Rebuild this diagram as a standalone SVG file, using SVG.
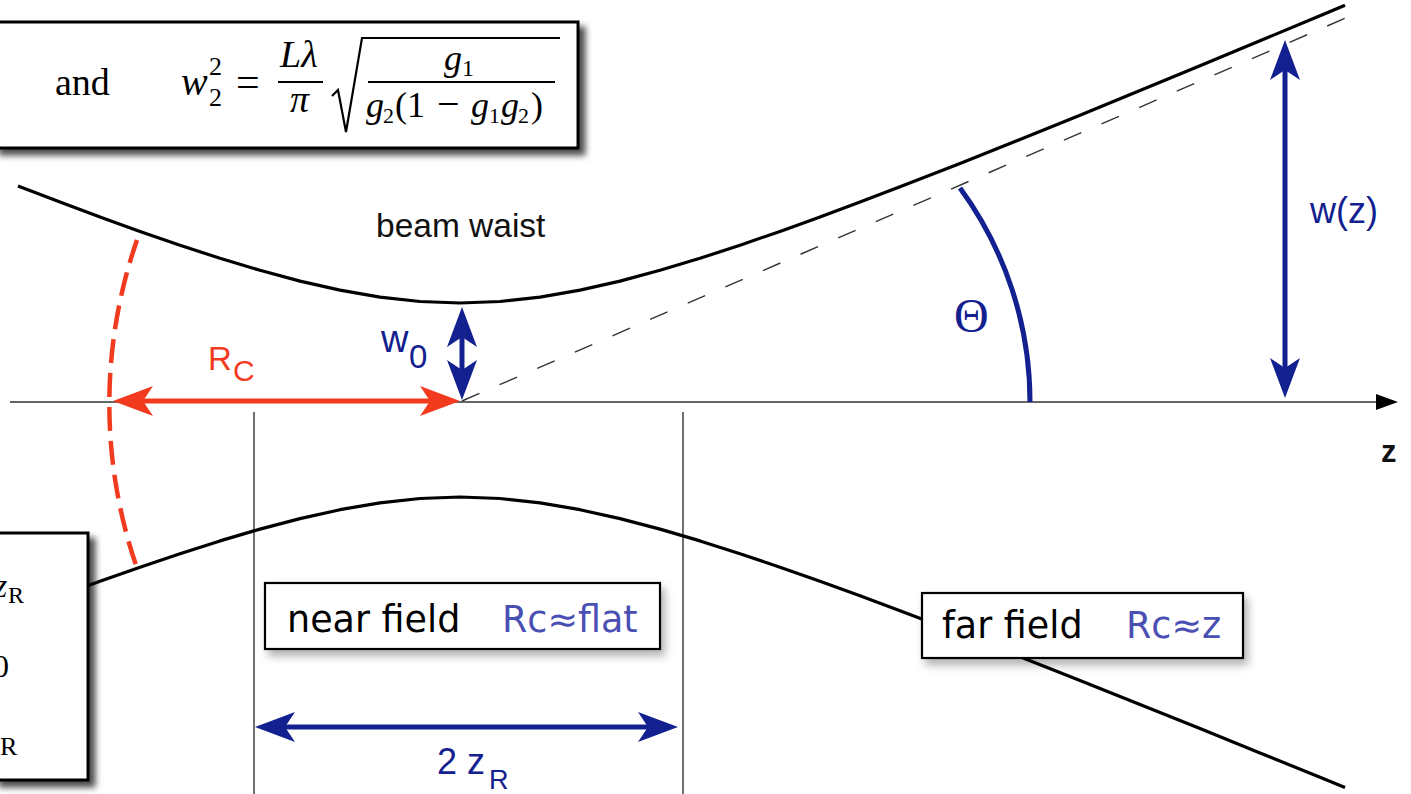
<svg xmlns="http://www.w3.org/2000/svg" width="1411" height="794" viewBox="0 0 1411 794">
<defs>
<style>
.sans{font-family:"Liberation Sans",Arial,sans-serif}
.serif{font-family:"Liberation Serif","Times New Roman",serif}
.verd{font-family:"DejaVu Sans",Verdana,sans-serif}
.it{font-style:italic}
.blue{fill:#13208f}
.red{fill:#f23a1e}
.lblue{fill:#4a50b3}
.box{fill:#fff;stroke:#000;stroke-width:3}
.fbox{fill:#fff;stroke:#000;stroke-width:2.2}
.beam{fill:none;stroke:#000;stroke-width:3.2;stroke-linejoin:round}
</style>
<filter id="shDark" x="-10%" y="-10%" width="130%" height="140%">
<feDropShadow dx="6" dy="6" stdDeviation="3" flood-color="#000" flood-opacity="0.7"/>
</filter>
<filter id="shLight" x="-10%" y="-20%" width="130%" height="160%">
<feDropShadow dx="4" dy="6" stdDeviation="4" flood-color="#000" flood-opacity="0.3"/>
</filter>
<marker id="ahBlue" viewBox="-12 -16 44 32" refX="0" refY="0" markerWidth="44" markerHeight="32" markerUnits="userSpaceOnUse" orient="auto-start-reverse">
<path d="M30,0 L-10,-15 L0,0 L-10,15 Z" fill="#13208f"/>
</marker>
<marker id="ahRed" viewBox="-12 -16 44 32" refX="0" refY="0" markerWidth="44" markerHeight="32" markerUnits="userSpaceOnUse" orient="auto-start-reverse">
<path d="M30,0 L-10,-15 L0,0 L-10,15 Z" fill="#f23a1e"/>
</marker>
</defs>
<rect width="1411" height="794" fill="#fff"/>

<g id="connectors">
<line x1="10" y1="402" x2="1380" y2="402" stroke="#333" stroke-width="1.6"/>
<polygon points="1398,402 1376,394 1376,410" fill="#000"/>
<line x1="254" y1="412" x2="254" y2="794" stroke="#333" stroke-width="1.4"/>
<line x1="683" y1="412" x2="683" y2="794" stroke="#333" stroke-width="1.4"/>
<line x1="462" y1="401" x2="1348" y2="17" stroke="#333" stroke-width="1.4" stroke-dasharray="19 22"/>
<path class="beam" d="M18,186.1 L60,202.1 L100,217 L140,231.4 L180,245.2 L220,258.3 L260,270.3 L300,281.1 L340,290.1 L380,297.1 L420,301.5 L460,303 L500,301.5 L540,297.1 L580,290.1 L620,281.1 L660,270.3 L700,258.3 L740,245.2 L780,231.4 L820,217 L860,202.1 L900,186.8 L960,163.4 L1020,139.5 L1080,115.2 L1140,90.6 L1200,65.8 L1260,40.8 L1320,15.7 L1345,5.2"/>
<path class="beam" d="M60,595.8 L100,581.2 L140,567.2 L180,553.7 L220,540.9 L260,529.1 L300,518.6 L340,509.7 L380,502.8 L420,498.5 L460,497 L500,498.5 L540,502.8 L580,509.7 L620,518.6 L660,529.1 L700,540.9 L740,553.7 L780,567.2 L820,581.2 L860,595.8 L900,610.7 L960,633.5 L1020,656.8 L1080,680.5 L1140,704.4 L1200,728.6 L1260,752.9 L1320,777.3 L1345,787.5"/>
<path d="M137,240 A500,500 0 0 0 137,568" fill="none" stroke="#f23a1e" stroke-width="4.5" stroke-dasharray="24 10"/>
<path d="M960,188 A362,362 0 0 1 1030,402" fill="none" stroke="#13208f" stroke-width="5"/>
<line x1="143" y1="401" x2="430" y2="401" stroke="#f23a1e" stroke-width="5" marker-start="url(#ahRed)" marker-end="url(#ahRed)"/>
<line x1="462" y1="337" x2="462" y2="370" stroke="#13208f" stroke-width="5" marker-start="url(#ahBlue)" marker-end="url(#ahBlue)"/>
<line x1="1285" y1="70" x2="1285" y2="368" stroke="#13208f" stroke-width="5" marker-start="url(#ahBlue)" marker-end="url(#ahBlue)"/>
<line x1="285" y1="727" x2="648" y2="727" stroke="#13208f" stroke-width="5" marker-start="url(#ahBlue)" marker-end="url(#ahBlue)"/>
</g>

<g id="formula-box">
<rect class="box" x="-6" y="22" width="584" height="126" filter="url(#shDark)"/>
<text class="serif" x="55" y="95" font-size="38">and</text>
<text class="serif it" x="181" y="95" font-size="40">w</text>
<text class="serif" x="209" y="75" font-size="26">2</text>
<text class="serif" x="209" y="106" font-size="26">2</text>
<text class="serif" x="236" y="96" font-size="42">=</text>
<text class="serif it" x="280" y="67" font-size="38">Lλ</text>
<line x1="278" y1="82" x2="323" y2="82" stroke="#000" stroke-width="2"/>
<text class="serif it" x="290" y="112" font-size="38">π</text>
<path d="M332,96 L338,90 L346,132 L362,38 H560" fill="none" stroke="#000" stroke-width="2.2" stroke-linejoin="miter"/>
<text class="serif it" x="444" y="70" font-size="36">g</text>
<text class="serif" x="462" y="76" font-size="24">1</text>
<line x1="368" y1="82" x2="555" y2="82" stroke="#000" stroke-width="2"/>
<text class="serif" y="117" font-size="36"><tspan class="it" x="366">g</tspan><tspan x="383" y="123" font-size="22">2</tspan><tspan x="395" y="117">(1</tspan><tspan x="437" font-size="40">−</tspan><tspan class="it" x="471">g</tspan><tspan x="489" y="123" font-size="22">1</tspan><tspan class="it" x="501" y="117">g</tspan><tspan x="518" y="123" font-size="22">2</tspan><tspan x="531" y="117">)</tspan></text>
</g>

<g id="condition-box">
<rect class="box" x="-6" y="533" width="94" height="247" filter="url(#shDark)"/>
<text class="serif" font-size="34"><tspan class="it" x="-6" y="597">z</tspan><tspan x="8" y="603" font-size="24">R</tspan></text>
<text class="serif" x="-7" y="677" font-size="32">0</text>
<text class="serif" font-size="34"><tspan class="it" x="-16" y="755">z</tspan><tspan x="0" y="755" font-size="26">R</tspan></text>
</g>

<g id="near-field">
<rect class="fbox" x="265" y="583" width="395" height="66" filter="url(#shLight)"/>
<text class="verd" x="287" y="632" font-size="36.5" fill="#000">near field</text>
<text class="verd lblue" x="502" y="632" font-size="36.5">Rc≈flat</text>
</g>

<g id="far-field">
<rect class="fbox" x="922" y="593" width="321" height="65" filter="url(#shLight)"/>
<text class="verd" x="942" y="638" font-size="36.5" fill="#000">far field</text>
<text class="verd lblue" x="1126" y="638" font-size="36.5">Rc≈z</text>
</g>

<g id="labels">
<text class="sans" x="376" y="237" font-size="33.5" fill="#111">beam waist</text>
<text class="sans red" font-size="33"><tspan x="208" y="370">R</tspan><tspan x="233" y="381" font-size="30">C</tspan></text>
<text class="sans blue" font-size="38"><tspan x="381" y="352">w</tspan><tspan x="409" y="368" font-size="33">0</tspan></text>
<text class="serif blue" x="954" y="332" font-size="48">Θ</text>
<text class="sans blue" x="1310" y="223" font-size="36">w(z)</text>
<text class="sans" x="1381" y="462" font-size="31" font-weight="bold" fill="#111">z</text>
<text class="sans blue" font-size="36"><tspan x="437" y="774">2 z</tspan><tspan x="489" y="789" font-size="27">R</tspan></text>
</g>
</svg>
